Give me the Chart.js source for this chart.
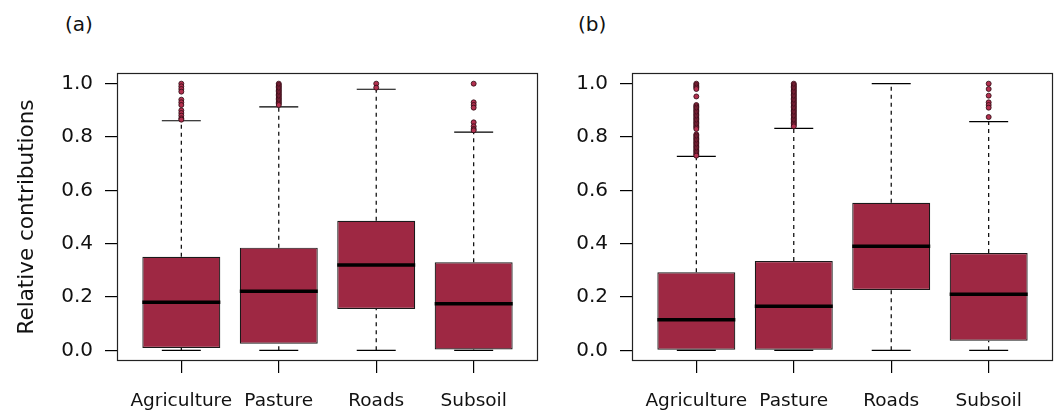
<!DOCTYPE html>
<html>
<head>
<meta charset="utf-8">
<script src="https://cdn.jsdelivr.net/npm/chart.js@4/dist/chart.umd.min.js"></script>
<style>
  html, body { margin:0; padding:0; background:#fff; }
  body { width:1062px; height:412px; position:relative; overflow:hidden; font-family:"DejaVu Sans", sans-serif; }
  .panel { position:absolute; top:0; height:412px; }
  .lbl { position:absolute; font-family:"DejaVu Sans", sans-serif; font-size:20px; color:#111; line-height:20px; }
</style>
</head>
<body>
<div class="lbl" style="left:65px; top:14px;">(a)</div>
<div class="lbl" style="left:578px; top:14px;">(b)</div>
<div class="panel" style="left:0; width:545px;"><canvas id="ca"></canvas></div>
<div class="panel" style="left:545px; width:517px;"><canvas id="cb"></canvas></div>
<script>
// ---------- data ----------
const categories = ["Agriculture", "Pasture", "Roads", "Subsoil"];
const yTicks = [0.0, 0.2, 0.4, 0.6, 0.8, 1.0];
const yTitle = "Relative contributions";

// Panel (a)
const aLow    = [0.0,   0.0,   0.0,   0.0];
const aQ1     = [0.009, 0.025, 0.155, 0.003];
const aMedian = [0.180, 0.222, 0.320, 0.175];
const aQ3     = [0.351, 0.385, 0.486, 0.330];
const aHigh   = [0.861, 0.913, 0.979, 0.818];
const aOutAgriculture = [1.0, 0.99, 0.98, 0.97, 0.94, 0.93, 0.92, 0.90, 0.89, 0.88, 0.87, 0.865];
const aOutPasture = [1.0, 0.995, 0.99, 0.985, 0.98, 0.975, 0.97, 0.965, 0.96, 0.955, 0.95, 0.945, 0.94, 0.935, 0.93, 0.925, 0.92];
const aOutRoads = [1.0, 0.985];
const aOutSubsoil = [1.0, 0.93, 0.92, 0.91, 0.855, 0.84, 0.83, 0.825];

// Panel (b)
const bLow    = [0.0,   0.0,   0.0,   0.0];
const bQ1     = [0.0,   0.0,   0.226, 0.036];
const bMedian = [0.115, 0.165, 0.390, 0.210];
const bQ3     = [0.293, 0.335, 0.553, 0.365];
const bHigh   = [0.727, 0.832, 1.0,   0.858];
const bOutAgriculture = [1.0, 0.995, 0.99, 0.985, 0.98, 0.952,
  0.92, 0.915, 0.91, 0.905, 0.90, 0.895, 0.89, 0.885, 0.88, 0.875, 0.87, 0.865, 0.86, 0.855, 0.85, 0.845, 0.84, 0.835, 0.83,
  0.81, 0.805, 0.80, 0.795, 0.79, 0.785, 0.78, 0.775, 0.77, 0.765, 0.76, 0.755, 0.75, 0.745, 0.74, 0.735, 0.73];
const bOutPasture = [1.0, 0.995, 0.99, 0.985, 0.98, 0.975, 0.97, 0.965, 0.96, 0.955, 0.95, 0.945, 0.94, 0.935, 0.93, 0.925,
  0.92, 0.915, 0.91, 0.905, 0.90, 0.895, 0.89, 0.885, 0.88, 0.875, 0.87, 0.865, 0.86, 0.855, 0.85, 0.845, 0.84];
const bOutRoads = [];
const bOutSubsoil = [1.0, 0.98, 0.955, 0.93, 0.92, 0.91, 0.875];

// ---------- styles ----------
const BOX_FILL = "#9E2843";
const BOX_EDGE = "#1a1a1a";
const PT_FILL = "#B3304F";
const PT_EDGE = "#2A0A12";
const BOX_HALF = 0.4;
const CAP_HALF = 0.2;
const FONT = "DejaVu Sans";

const framePlugin = {
  id: "frame",
  afterDraw(chart) {
    const {ctx, chartArea: a} = chart;
    ctx.save();
    ctx.strokeStyle = "#222";
    ctx.lineWidth = 1.2;
    ctx.strokeRect(Math.round(a.left) + 0.5, Math.round(a.top) + 0.5,
                   Math.round(a.right - a.left) - 1, Math.round(a.bottom - a.top) - 1);
    ctx.restore();
  }
};

function buildChart(canvasId, low, q1, med, q3, high, outs, opts) {
  const boxes = categories.map((c, i) => ({x: i + 1, y: [q1[i], q3[i]]}));
  const medians = [], whiskers = [], caps = [], points = [];
  categories.forEach((c, i) => {
    const x = i + 1;
    medians.push({x: x - BOX_HALF, y: med[i]}, {x: x + BOX_HALF, y: med[i]}, {x: x, y: null});
    whiskers.push({x: x, y: q3[i]}, {x: x, y: high[i]}, {x: x, y: null},
                  {x: x, y: low[i]}, {x: x, y: q1[i]}, {x: x, y: null});
    caps.push({x: x - CAP_HALF, y: high[i]}, {x: x + CAP_HALF, y: high[i]}, {x: x, y: null},
              {x: x - CAP_HALF, y: low[i]}, {x: x + CAP_HALF, y: low[i]}, {x: x, y: null});
    outs[i].forEach(v => points.push({x: x, y: v}));
  });

  return new Chart(document.getElementById(canvasId), {
    type: "bar",
    data: {
      datasets: [
        {type: "line", data: whiskers, borderColor: "#000", borderWidth: 1.2, borderDash: [4, 4],
         pointRadius: 0, spanGaps: false, fill: false, order: 6},
        {type: "line", data: caps, borderColor: "#000", borderWidth: 1.2,
         pointRadius: 0, spanGaps: false, fill: false, order: 5},
        {type: "bar", data: boxes, backgroundColor: BOX_FILL, borderColor: BOX_EDGE, borderWidth: 1.2,
         borderSkipped: false, categoryPercentage: 1.0, barPercentage: 0.8, order: 4},
        {type: "line", data: medians, borderColor: "#000", borderWidth: 3.5,
         pointRadius: 0, spanGaps: false, fill: false, order: 3, borderCapStyle: "butt"},
        {type: "scatter", data: points, backgroundColor: PT_FILL, borderColor: PT_EDGE, borderWidth: 0.8,
         pointRadius: 2.5, order: 1}
      ]
    },
    options: {
      responsive: true,
      maintainAspectRatio: false,
      animation: false,
      events: [],
      layout: {padding: {top: 73, right: opts.padRight, bottom: 0, left: 0}},
      plugins: {legend: {display: false}, tooltip: {enabled: false}, title: {display: false}},
      scales: {
        x: {
          type: "linear", min: 0.34, max: 4.66, offset: false,
          afterBuildTicks: s => { s.ticks = categories.map((c, i) => ({value: i + 1})); },
          afterFit: s => { s.height = 51; },
          grid: {offset: false, drawOnChartArea: false, drawTicks: true, tickLength: 12, color: "#000", lineWidth: 1.2},
          border: {display: false},
          ticks: {
            callback: v => categories[Math.round(v) - 1],
            font: {family: FONT, size: 18.5}, color: "#111", padding: 17,
            maxRotation: 0, autoSkip: false
          }
        },
        y: {
          type: "linear", min: -0.04, max: 1.04,
          afterBuildTicks: s => { s.ticks = yTicks.map(v => ({value: v})); },
          afterFit: s => { s.width = opts.yWidth; },
          grid: {drawOnChartArea: false, drawTicks: true, tickLength: 12, color: "#000", lineWidth: 1.2},
          border: {display: false},
          ticks: {
            callback: v => Number(v).toFixed(1),
            font: {family: FONT, size: 20}, color: "#111", padding: 12
          },
          title: {
            display: opts.showTitle, text: yTitle, color: "#111",
            font: {family: FONT, size: 21.5}, padding: {top: 15, bottom: 0}
          }
        }
      }
    },
    plugins: [framePlugin]
  });
}

buildChart("ca", aLow, aQ1, aMedian, aQ3, aHigh,
  [aOutAgriculture, aOutPasture, aOutRoads, aOutSubsoil],
  {yWidth: 117, padRight: 7, showTitle: true});
buildChart("cb", bLow, bQ1, bMedian, bQ3, bHigh,
  [bOutAgriculture, bOutPasture, bOutRoads, bOutSubsoil],
  {yWidth: 87, padRight: 9, showTitle: false});
</script>
</body>
</html>
